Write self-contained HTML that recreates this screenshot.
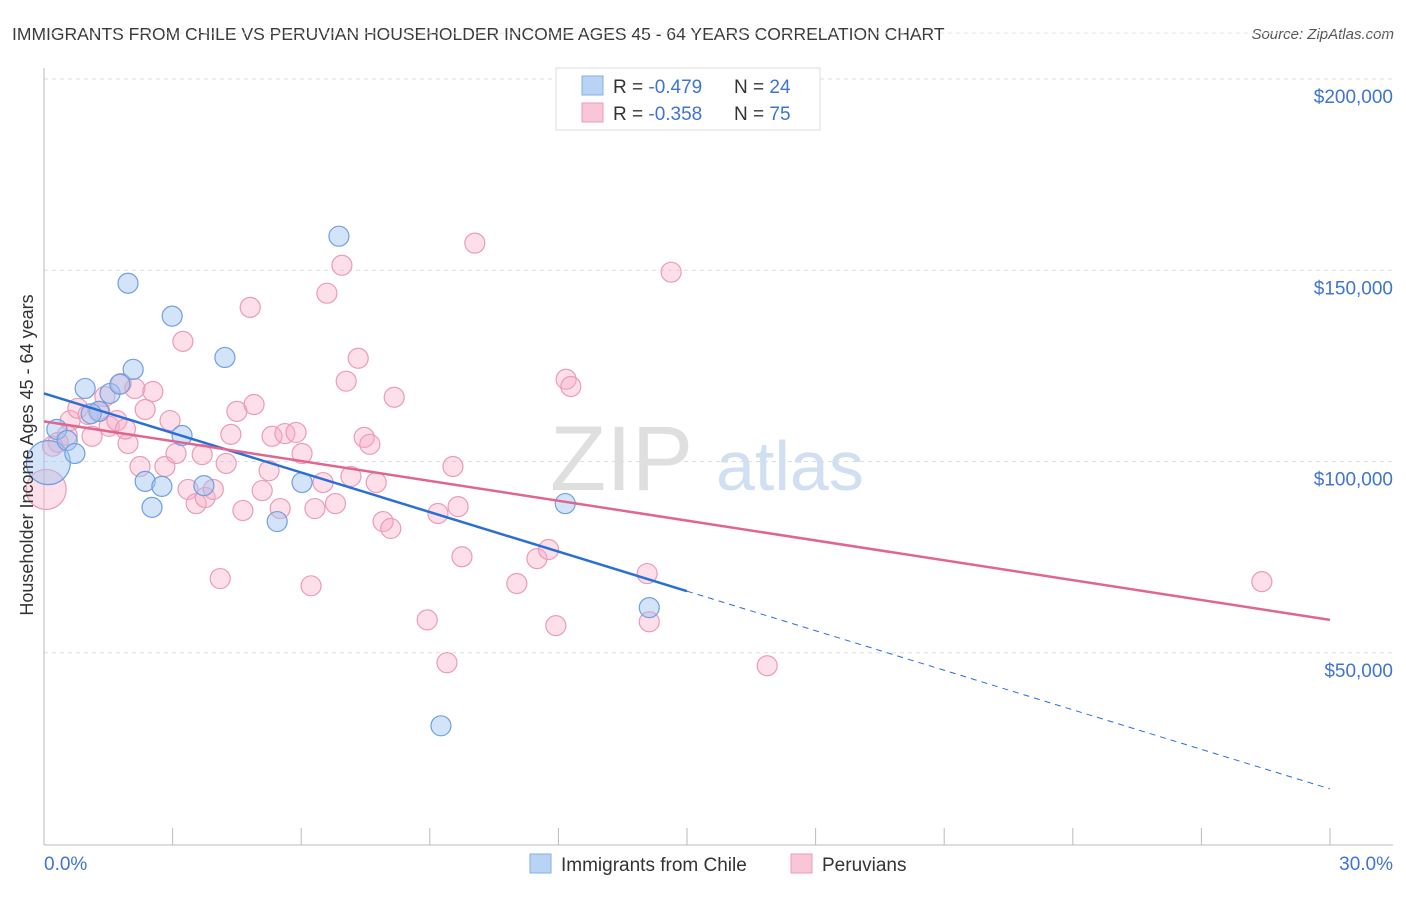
<!DOCTYPE html>
<html><head><meta charset="utf-8"><style>
body{margin:0;background:#fff;font-family:"Liberation Sans",sans-serif;}
svg text{font-family:"Liberation Sans",sans-serif;}
</style></head><body>
<svg id="chart" width="1406" height="892">
<text x="12" y="40" font-size="17.5" fill="#3a3a3a">IMMIGRANTS FROM CHILE VS PERUVIAN HOUSEHOLDER INCOME AGES 45 - 64 YEARS CORRELATION CHART</text>
<text x="1394" y="39" font-size="15" font-style="italic" fill="#555" text-anchor="end">Source: ZipAtlas.com</text>
<g>
<text x="550" y="490" font-size="92" font-family="Liberation Serif" fill="#d8d8d8" opacity="0.8">ZIP</text>
<text x="716" y="490" font-size="70" fill="#c5d8f0" opacity="0.8">atlas</text>
</g>
<g id="grid"></g>
<g id="axes"></g>
<g id="marks"></g>
<text transform="translate(33,455) rotate(-90)" font-size="18" fill="#333" text-anchor="middle">Householder Income Ages 45 - 64 years</text>
<g>
<rect x="556" y="68" width="264" height="62" fill="#fff" stroke="#ddd"/>
<rect x="582" y="76" width="21" height="19" fill="#b9d3f5" stroke="#86adea"/>
<rect x="582" y="103" width="21" height="19" fill="#f9c6d6" stroke="#ee9ab5"/>
<text x="613" y="93" font-size="19" fill="#333">R = <tspan fill="#3f74d0">-0.479</tspan><tspan x="734">N = </tspan><tspan fill="#3f74d0">24</tspan></text>
<text x="613" y="120" font-size="19" fill="#333">R = <tspan fill="#3f74d0">-0.358</tspan><tspan x="734">N = </tspan><tspan fill="#3f74d0">75</tspan></text>
</g>
<g>
<rect x="530" y="854" width="21" height="19" fill="#b9d3f5" stroke="#86adea"/>
<text x="561" y="871" font-size="19" fill="#333">Immigrants from Chile</text>
<rect x="791" y="854" width="21" height="19" fill="#f9c6d6" stroke="#ee9ab5"/>
<text x="822" y="871" font-size="19" fill="#333">Peruvians</text>
</g>
</svg>
<script>
const yTicks=[50000,100000,150000,200000];
const yTickLabels=["$50,000","$100,000","$150,000","$200,000"];
const xTicks=[0,3,6,9,12,15,18,21,24,27,30];
const chileX=[0.1,0.3,0.54,0.72,0.96,1.28,1.54,1.77,2.08,1.96,2.99,3.22,2.36,2.52,2.75,3.73,4.22,5.44,6.02,6.88,9.26,12.16,14.12,1.1];
const chileY=[99.7,108.4,105.5,102.1,119.1,113.1,117.8,120.2,124.1,146.6,138.0,106.8,94.8,88.0,93.5,93.7,127.2,84.3,94.5,158.9,30.9,89.0,61.8,112.5];
const chileR=[22,10,10,10,10,10,10,10,10,10,10,10,10,10,10,10,10,10,10,10,10,10,10,10];
const peruX=[0.05,0.33,0.61,0.79,1.03,1.12,1.42,1.52,1.7,1.8,1.96,2.12,2.24,2.36,2.54,2.82,2.94,3.08,3.24,3.36,3.55,3.76,3.69,3.95,4.11,4.25,4.36,4.5,4.64,4.81,4.9,5.09,5.25,5.32,5.51,5.62,5.88,6.02,6.23,6.32,6.51,6.6,6.8,6.95,7.05,7.16,7.33,7.47,7.6,7.75,7.91,8.09,8.17,8.94,9.19,9.4,9.54,9.66,9.75,10.05,11.03,11.5,11.77,11.94,12.18,12.29,14.07,14.12,14.63,16.87,28.41,0.54,1.3,0.2,1.9];
const peruY=[92.7,105,110.7,113.9,112.3,106.6,117,109.2,110.7,120.4,104.7,119.1,98.7,113.6,118.3,98.7,110.7,102.1,131.4,92.7,89,90.6,101.8,92.7,69.4,99.5,107.1,113.1,87.2,140.3,114.9,92.4,97.6,106.6,87.7,107.3,107.6,102.1,67.5,87.7,94.5,144,89,151.3,121,96.1,127,106.3,104.5,94.5,84.3,82.5,116.8,58.6,86.4,47.4,98.7,88.2,75.1,157.1,68.1,74.6,77,57.1,121.5,119.6,70.7,58.1,149.5,46.6,68.6,106.8,113.1,104,108.5];
const chileTrend=[117.8,14.4]; const chileSolidEnd=15.0;
const peruTrend=[110.5,58.6];
const X0=44,X1=1330,Y0=844,Y200=79;
const xs=v=>X0+(v/30)*(X1-X0);
const ys=v=>Y0-(v/200)*(Y0-Y200);
const NS="http://www.w3.org/2000/svg";
function mk(tag,attrs,parent){const e=document.createElementNS(NS,tag);for(const k in attrs)e.setAttribute(k,attrs[k]);parent.appendChild(e);return e;}
const grid=document.getElementById('grid'),axes=document.getElementById('axes'),marks=document.getElementById('marks');
yTicks.forEach((t,i)=>{
 const l=mk('line',{x1:44,x2:1393,y1:ys(t/1000),y2:ys(t/1000),stroke:'#ddd','stroke-dasharray':'4,4'},grid);
 
 
 const tx=mk('text',{x:1393,y:ys(t/1000)+24,'font-size':19,fill:'#3f74d0','text-anchor':'end'},grid);
 tx.textContent=yTickLabels[i];
 
 
});
const tl=mk('line',{x1:44,x2:1393,y1:ys(212),y2:ys(212),stroke:'#e6e6e6','stroke-dasharray':'4,4'},grid);


const ya=mk('line',{x1:44,x2:44,y1:68,y2:845,stroke:'#bbb'},axes);


const xa=mk('line',{x1:44,x2:1393,y1:845,y2:845,stroke:'#bbb'},axes);


xTicks.forEach(t=>{
 const k=mk('line',{x1:xs(t),x2:xs(t),y1:828,y2:845,stroke:'#bbb'},axes);
 
 
});
const xl0=mk('text',{x:44,y:870,'font-size':19,fill:'#3f74d0'},axes);xl0.textContent=xTicks[0].toFixed(1)+'%';


const xl1=mk('text',{x:1393,y:870,'font-size':19,fill:'#3f74d0','text-anchor':'end'},axes);xl1.textContent=xTicks[xTicks.length-1].toFixed(1)+'%';


peruX.forEach((x,i)=>{
 const c=mk('circle',{cx:xs(x),cy:ys(peruY[i]),r:i===0?20:10,fill:'rgba(246,170,196,0.38)',stroke:'#ec9bb6','stroke-width':1.2},marks);
 
 
});
chileX.forEach((x,i)=>{
 const c=mk('circle',{cx:xs(x),cy:ys(chileY[i]),r:chileR[i],fill:'rgba(160,196,240,0.45)',stroke:'#6f9fe2','stroke-width':1.2},marks);
 
 
});
const cy=x=>chileTrend[0]+(chileTrend[1]-chileTrend[0])*x/30;
const bl=mk('line',{x1:xs(0),y1:ys(cy(0)),x2:xs(chileSolidEnd),y2:ys(cy(chileSolidEnd)),stroke:'#2a6fd6','stroke-width':2.5},marks);


const bd=mk('line',{x1:xs(chileSolidEnd),y1:ys(cy(chileSolidEnd)),x2:xs(30),y2:ys(cy(30)),stroke:'#2a6fd6','stroke-width':1,'stroke-dasharray':'6,5'},marks);


const pl=mk('line',{x1:xs(0),y1:ys(peruTrend[0]),x2:xs(30),y2:ys(peruTrend[1]),stroke:'#e06690','stroke-width':2.5},marks);


</script>
</body></html>
